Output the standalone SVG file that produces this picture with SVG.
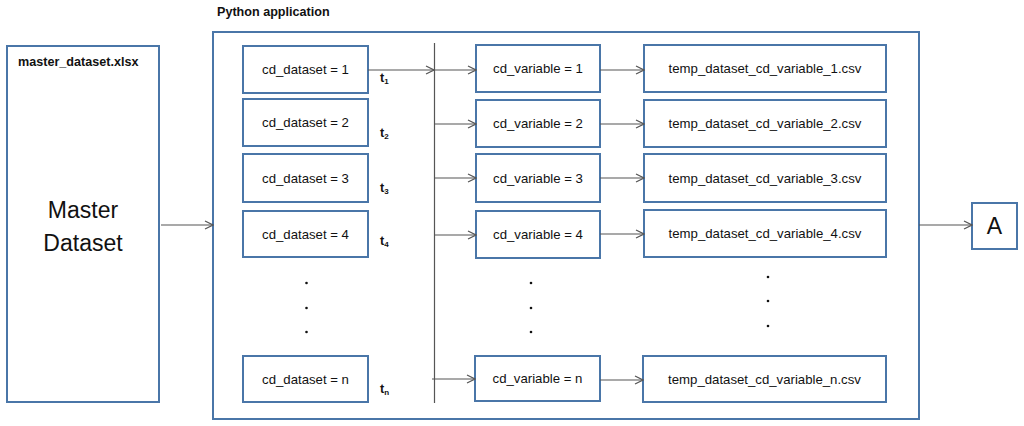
<svg xmlns="http://www.w3.org/2000/svg" width="1024" height="426" viewBox="0 0 1024 426">
<style>
.box{fill:#fff;stroke:#4a76a8;stroke-width:2}
.t{font-family:"Liberation Sans",Arial,sans-serif;font-size:13.2px;fill:#111;text-anchor:middle;dominant-baseline:central}
.b{font-family:"Liberation Sans",Arial,sans-serif;font-size:12.6px;font-weight:bold;fill:#111}
.big{font-family:"Liberation Sans",Arial,sans-serif;font-size:23px;fill:#111;text-anchor:middle}
.ln{stroke:#555;stroke-width:1.2;fill:none}
.dot{fill:#111}
</style>
<defs>
<marker id="ah" markerWidth="10" markerHeight="10" refX="9" refY="5" orient="auto" markerUnits="userSpaceOnUse">
<path d="M1,1 L9,5 L1,9" fill="none" stroke="#555" stroke-width="1.2"/>
</marker>
</defs>
<rect width="1024" height="426" fill="#fff"/>
<g id="master">
<rect class="box" x="7" y="46" width="152" height="356"/>
<text class="b" x="18" y="66">master_dataset.xlsx</text>
<text class="big" x="83" y="218">Master</text>
<text class="big" x="83" y="251">Dataset</text>
</g>
<g id="python">
<rect class="box" x="213" y="32" width="706" height="387"/>
<text class="b" x="217" y="16">Python application</text>
</g>
<g id="A">
<rect class="box" x="972" y="203" width="45" height="46"/>
<text class="big" x="994.5" y="234">A</text>
</g>
<g id="ds1"><rect class="box" x="243" y="46" width="125" height="47"/><text class="t" x="305.5" y="69.5">cd_dataset = 1</text></g>
<g id="ds2"><rect class="box" x="243" y="99" width="125" height="47"/><text class="t" x="305.5" y="122.5">cd_dataset = 2</text></g>
<g id="ds3"><rect class="box" x="243" y="154" width="125" height="48"/><text class="t" x="305.5" y="178">cd_dataset = 3</text></g>
<g id="ds4"><rect class="box" x="243" y="211" width="125" height="46"/><text class="t" x="305.5" y="234">cd_dataset = 4</text></g>
<g id="dsn"><rect class="box" x="243" y="356" width="125" height="46"/><text class="t" x="305.5" y="379">cd_dataset = n</text></g>
<g id="v1"><rect class="box" x="476" y="45" width="124" height="47"/><text class="t" x="538" y="68.5">cd_variable = 1</text></g>
<g id="v2"><rect class="box" x="476" y="100" width="124" height="47"/><text class="t" x="538" y="123.5">cd_variable = 2</text></g>
<g id="v3"><rect class="box" x="476" y="154" width="124" height="48"/><text class="t" x="538" y="178">cd_variable = 3</text></g>
<g id="v4"><rect class="box" x="476" y="211" width="124" height="47"/><text class="t" x="538" y="234.5">cd_variable = 4</text></g>
<g id="vn"><rect class="box" x="475" y="356" width="125" height="45"/><text class="t" x="537.5" y="378.5">cd_variable = n</text></g>
<g id="f1"><rect class="box" x="644" y="45" width="242" height="47"/><text class="t" x="765" y="68.5">temp_dataset_cd_variable_1.csv</text></g>
<g id="f2"><rect class="box" x="644" y="100" width="242" height="47"/><text class="t" x="765" y="123.5">temp_dataset_cd_variable_2.csv</text></g>
<g id="f3"><rect class="box" x="644" y="154" width="242" height="48"/><text class="t" x="765" y="178">temp_dataset_cd_variable_3.csv</text></g>
<g id="f4"><rect class="box" x="644" y="210" width="242" height="47"/><text class="t" x="765" y="233.5">temp_dataset_cd_variable_4.csv</text></g>
<g id="fn"><rect class="box" x="643" y="356" width="243" height="46"/><text class="t" x="764.5" y="379">temp_dataset_cd_variable_n.csv</text></g>
<g id="labels">
<text class="b" x="380" y="82">t<tspan font-size="8" dy="2">1</tspan></text>
<text class="b" x="380" y="137">t<tspan font-size="8" dy="2">2</tspan></text>
<text class="b" x="380" y="192">t<tspan font-size="8" dy="2">3</tspan></text>
<text class="b" x="380" y="245">t<tspan font-size="8" dy="2">4</tspan></text>
<text class="b" x="380" y="393">t<tspan font-size="8" dy="2">n</tspan></text>
<circle class="dot" cx="306.5" cy="283" r="1.3"/><circle class="dot" cx="306.5" cy="308" r="1.3"/><circle class="dot" cx="306.5" cy="332" r="1.3"/>
<circle class="dot" cx="531" cy="283" r="1.3"/><circle class="dot" cx="531" cy="308" r="1.3"/><circle class="dot" cx="531" cy="332" r="1.3"/>
<circle class="dot" cx="768" cy="277" r="1.3"/><circle class="dot" cx="768" cy="301" r="1.3"/><circle class="dot" cx="768" cy="326" r="1.3"/>
</g>
<g id="connectors">
<line class="ln" x1="434.5" y1="43" x2="434.5" y2="403" stroke="#222"/>
<line class="ln" x1="161" y1="225" x2="213" y2="225" marker-end="url(#ah)"/>
<line class="ln" x1="919" y1="225" x2="972" y2="225" marker-end="url(#ah)"/>
<line class="ln" x1="368" y1="70" x2="434" y2="70" marker-end="url(#ah)"/>
<line class="ln" x1="435" y1="70" x2="476" y2="70" marker-end="url(#ah)"/>
<line class="ln" x1="435" y1="124" x2="476" y2="124" marker-end="url(#ah)"/>
<line class="ln" x1="435" y1="178" x2="476" y2="178" marker-end="url(#ah)"/>
<line class="ln" x1="435" y1="235" x2="476" y2="235" marker-end="url(#ah)"/>
<line class="ln" x1="432" y1="379" x2="475" y2="379" marker-end="url(#ah)"/>
<line class="ln" x1="600" y1="70" x2="644" y2="70" marker-end="url(#ah)"/>
<line class="ln" x1="600" y1="124" x2="644" y2="124" marker-end="url(#ah)"/>
<line class="ln" x1="600" y1="178" x2="644" y2="178" marker-end="url(#ah)"/>
<line class="ln" x1="600" y1="234" x2="644" y2="234" marker-end="url(#ah)"/>
<line class="ln" x1="600" y1="380" x2="643" y2="380" marker-end="url(#ah)"/>
</g>
</svg>
